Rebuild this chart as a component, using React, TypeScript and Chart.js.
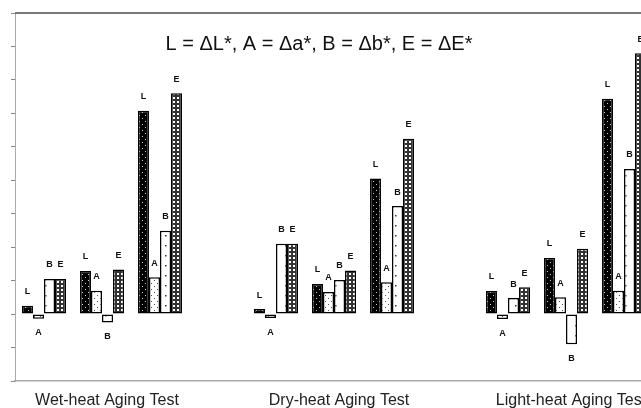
import React, { useEffect, useRef } from "react";
import { Chart, registerables } from "chart.js";

Chart.register(...registerables);

const categories = ["", "Wet-heat Aging Test", "", "", "", "Dry-heat Aging Test", "", "", "", "Light-heat Aging Test", ""];
const seriesNames = ["L", "A", "B", "E"];
const valuesL = [0.25, 1.29, 6.08, null, 0.15, 0.9, 4.05, null, 0.69, 1.68, 6.44];
const valuesA = [-0.14, 0.7, 1.1, null, -0.12, 0.66, 0.95, null, -0.15, 0.5, 0.7];
const valuesB = [1.05, -0.25, 2.49, null, 2.1, 1.02, 3.23, null, 0.48, -0.9, 4.34];
const valuesE = [1.05, 1.33, 6.6, null, 2.1, 1.3, 5.24, null, 0.8, 1.95, 7.8];
const titleText = "L = \u0394L*, A = \u0394a*, B = \u0394b*, E = \u0394E*";

function makePattern(kind: string): CanvasPattern | string {
  const c = document.createElement("canvas");
  const size = kind === "B" ? 10 : kind === "E" ? 4 : 6;
  c.width = size;
  c.height = size;
  const g = c.getContext("2d");
  if (!g) return "#888";
  if (kind === "L") {
    g.fillStyle = "#000";
    g.fillRect(0, 0, size, size);
    g.fillStyle = "#ccc";
    g.fillRect(1, 1, 1, 1);
    g.fillRect(4, 4, 1, 1);
  } else if (kind === "A") {
    g.fillStyle = "#fff";
    g.fillRect(0, 0, size, size);
    g.fillStyle = "#555";
    g.fillRect(1, 1, 1, 1);
    g.fillRect(4, 4, 1, 1);
  } else if (kind === "B") {
    g.fillStyle = "#fff";
    g.fillRect(0, 0, size, size);
    g.fillStyle = "#333";
    g.fillRect(5, 5, 1.5, 1.5);
  } else {
    g.fillStyle = "#fff";
    g.fillRect(0, 0, size, size);
    g.strokeStyle = "#333";
    g.lineWidth = 1;
    g.strokeRect(0.5, 0.5, 3, 3);
  }
  return g.createPattern(c, "repeat") || "#888";
}

const overlayPlugin = {
  id: "overlay",
  afterDatasetsDraw(chart: any) {
    const ctx = chart.ctx;
    const area = chart.chartArea;
    ctx.save();
    ctx.strokeStyle = "#777";
    ctx.lineWidth = 2;
    ctx.beginPath();
    ctx.moveTo(area.left, area.top);
    ctx.lineTo(area.right, area.top);
    ctx.stroke();
    ctx.fillStyle = "#111";
    ctx.font = "20px 'Liberation Sans', Arial, sans-serif";
    ctx.textAlign = "center";
    ctx.textBaseline = "middle";
    ctx.fillText(titleText, 319, area.top + 31);
    ctx.font = "bold 9px 'Liberation Sans', Arial, sans-serif";
    chart.data.datasets.forEach((ds: any, i: number) => {
      const meta = chart.getDatasetMeta(i);
      meta.data.forEach((bar: any, j: number) => {
        const v = ds.data[j];
        if (v === null || v === undefined) return;
        const y = v >= 0 ? bar.y - 14 : bar.y + 14;
        ctx.fillText(seriesNames[i], bar.x, y);
      });
    });
    ctx.restore();
  },
};

export default function App() {
  const ref = useRef<HTMLCanvasElement | null>(null);
  useEffect(() => {
    if (!ref.current) return;
    const series = [valuesL, valuesA, valuesB, valuesE];
    const chart = new Chart(ref.current, {
      type: "bar",
      data: {
        labels: categories,
        datasets: series.map((vals, i) => ({
          label: seriesNames[i],
          data: vals,
          backgroundColor: makePattern(seriesNames[i]) as any,
          borderColor: "#000",
          borderWidth: 1.5,
          borderSkipped: false,
          categoryPercentage: 0.76,
          barPercentage: 1.0,
        })),
      },
      options: {
        responsive: false,
        animation: false,
        devicePixelRatio: 1,
        layout: { padding: { top: 13, right: 5, bottom: 0, left: 0 } },
        plugins: {
          legend: { display: false },
          tooltip: { enabled: false },
          title: { display: false },
        },
        scales: {
          x: {
            grid: { display: false, drawTicks: false },
            border: { display: true, color: "#aaa", width: 1.5 },
            ticks: {
              autoSkip: false,
              maxRotation: 0,
              minRotation: 0,
              padding: 10,
              labelOffset: 5,
              color: "#222",
              font: { size: 16, family: "'Liberation Sans', Arial, sans-serif" },
            },
            afterFit: (s: any) => {
              s.height = 27;
            },
          },
          y: {
            min: -2,
            max: 9,
            ticks: { stepSize: 1, display: false },
            grid: { drawOnChartArea: false, drawTicks: true, tickLength: 4, color: "#888" },
            border: { display: true, color: "#aaa", width: 1 },
            afterFit: (s: any) => {
              s.width = 15;
            },
          },
        },
      },
      plugins: [overlayPlugin],
    });
    return () => chart.destroy();
  }, []);
  return (
    <div style={{ position: "fixed", left: 0, top: 0, width: 641, height: 408, overflow: "hidden", background: "#fff" }}>
      <canvas ref={ref} width={658} height={408} style={{ display: "block" }} />
    </div>
  );
}
